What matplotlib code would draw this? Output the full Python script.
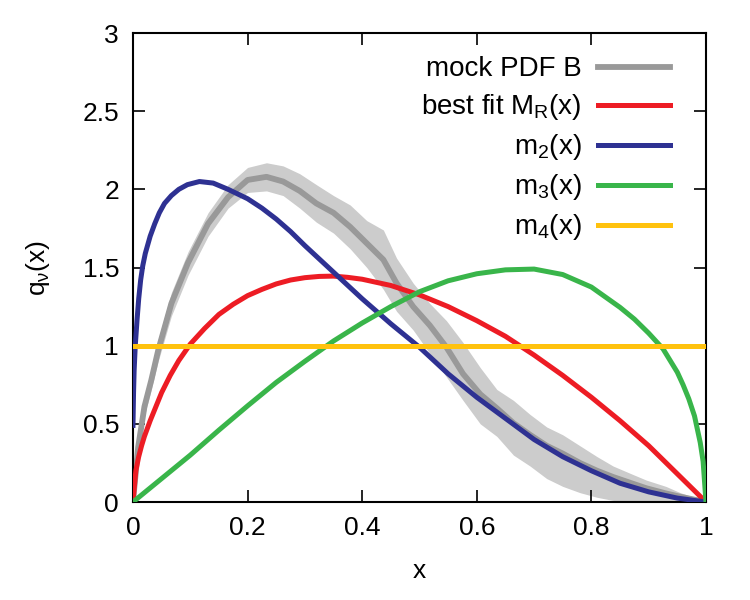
import matplotlib
matplotlib.use("Agg")
import matplotlib.pyplot as plt

plt.rcParams['font.family'] = ['Liberation Sans', 'DejaVu Sans']
plt.rcParams['mathtext.fontset'] = 'custom'
plt.rcParams['mathtext.rm'] = 'Liberation Sans'
plt.rcParams['mathtext.it'] = 'Liberation Sans'

# mock PDF B (centre line and uncertainty band)
pdf_x = [0.0, 0.009, 0.02, 0.032, 0.044, 0.067, 0.096, 0.131, 0.166, 0.2,
         0.233, 0.262, 0.291, 0.32, 0.35, 0.379, 0.408, 0.437, 0.46, 0.489,
         0.518, 0.547, 0.576, 0.606, 0.635, 0.664, 0.693, 0.722, 0.75, 0.78,
         0.81, 0.838, 0.87, 0.896, 0.93, 0.955, 0.98, 1.0]
pdf_mid = [0.0, 0.35, 0.61, 0.78, 0.97, 1.27, 1.53, 1.78, 1.95, 2.06,
           2.08, 2.05, 1.99, 1.91, 1.85, 1.76, 1.655, 1.55, 1.40, 1.25,
           1.13, 0.99, 0.82, 0.69, 0.60, 0.505, 0.43, 0.36, 0.31, 0.25,
           0.20, 0.16, 0.12, 0.088, 0.055, 0.034, 0.015, 0.0]
pdf_lo = [0.0, 0.30, 0.55, 0.72, 0.90, 1.19, 1.45, 1.70, 1.88, 1.98,
          1.99, 1.96, 1.88, 1.79, 1.72, 1.62, 1.50, 1.36, 1.22, 1.10,
          0.95, 0.80, 0.65, 0.50, 0.42, 0.30, 0.23, 0.15, 0.10, 0.06,
          0.03, 0.01, 0.0, 0.0, 0.0, 0.0, 0.0, 0.0]
pdf_hi = [0.05, 0.40, 0.67, 0.85, 1.04, 1.34, 1.60, 1.85, 2.03, 2.14,
          2.17, 2.15, 2.10, 2.03, 1.96, 1.90, 1.80, 1.74, 1.56, 1.40,
          1.27, 1.16, 1.02, 0.86, 0.72, 0.65, 0.56, 0.48, 0.43, 0.36,
          0.29, 0.23, 0.18, 0.14, 0.10, 0.06, 0.03, 0.0]

# best fit M_R(x)
mr_x = [0, 0.005, 0.01, 0.015, 0.02, 0.03, 0.04, 0.05, 0.065, 0.08, 0.1,
        0.125, 0.15, 0.175, 0.2, 0.225, 0.25, 0.275, 0.3, 0.325, 0.35, 0.375,
        0.4, 0.45, 0.5, 0.55, 0.6, 0.65, 0.7, 0.75, 0.8, 0.85, 0.9, 0.95,
        0.975, 1.0]
mr_y = [0, 0.20, 0.29, 0.36, 0.42, 0.52, 0.61, 0.70, 0.81, 0.905, 1.01,
        1.11, 1.20, 1.265, 1.32, 1.36, 1.395, 1.42, 1.435, 1.443, 1.445, 1.437,
        1.425, 1.385, 1.325, 1.25, 1.16, 1.06, 0.94, 0.81, 0.67, 0.52, 0.36,
        0.18, 0.09, 0]

# m2(x)
m2_x = [0.0, 0.001, 0.002, 0.004, 0.007, 0.010, 0.0134, 0.017, 0.0215, 0.03,
        0.038, 0.046, 0.055, 0.067, 0.08, 0.095, 0.116, 0.14, 0.166, 0.2,
        0.225, 0.25, 0.275, 0.3, 0.35, 0.4, 0.45, 0.5, 0.55, 0.6, 0.65, 0.7,
        0.75, 0.8, 0.85, 0.9, 0.95, 1.0]
m2_y = [0.49, 0.70, 0.84, 1.0, 1.16, 1.30, 1.42, 1.51, 1.59, 1.70,
        1.78, 1.85, 1.91, 1.96, 2.00, 2.03, 2.05, 2.04, 2.00, 1.94,
        1.88, 1.81, 1.73, 1.64, 1.47, 1.30, 1.14, 0.99, 0.82, 0.67, 0.535, 0.40,
        0.29, 0.20, 0.12, 0.065, 0.025, 0.0]

# m3(x)
m3_x = [0, 0.05, 0.1, 0.15, 0.2, 0.25, 0.3, 0.35, 0.4, 0.45, 0.5, 0.55, 0.6,
        0.65, 0.7, 0.75, 0.8, 0.85, 0.875, 0.9, 0.925, 0.95, 0.96, 0.97, 0.98,
        0.99, 0.995, 1.0]
m3_y = [0, 0.15, 0.30, 0.46, 0.615, 0.765, 0.90, 1.03, 1.145, 1.25, 1.345, 1.415,
        1.46, 1.485, 1.49, 1.455, 1.375, 1.245, 1.17, 1.08, 0.98, 0.83, 0.75,
        0.66, 0.55, 0.38, 0.26, 0]

# m4(x)
m4_x = [0, 1]
m4_y = [1, 1]

fig = plt.figure(figsize=(7.5, 6), dpi=100)
ax = fig.add_axes([0.1773, 0.1633, 0.764, 0.7817])

lw = 3.6
ax.fill_between(pdf_x, pdf_lo, pdf_hi, color='#cccccc', linewidth=0, zorder=1)
ax.plot(pdf_x, pdf_mid, color='#999999', lw=4.2, label='mock PDF B', zorder=2)
ax.plot(mr_x, mr_y, color='#ed1c24', lw=lw, label=r'best fit M$_\mathregular{R}$(x)', zorder=3)
ax.plot(m2_x, m2_y, color='#2e3192', lw=lw, label=r'm$_\mathregular{2}$(x)', zorder=4)
ax.plot(m3_x, m3_y, color='#39b54a', lw=lw, label=r'm$_\mathregular{3}$(x)', zorder=5)
ax.plot(m4_x, m4_y, color='#ffc20e', lw=lw, label=r'm$_\mathregular{4}$(x)', zorder=6)

ax.set_xlim(0, 1)
ax.set_ylim(0, 3)
ax.set_xticks([0, 0.2, 0.4, 0.6, 0.8, 1])
ax.set_xticklabels(['0', '0.2', '0.4', '0.6', '0.8', '1'])
ax.set_yticks([0, 0.5, 1, 1.5, 2, 2.5, 3])
ax.set_yticklabels(['0', '0.5', '1', '1.5', '2', '2.5', '3'])
ax.tick_params(direction='in', length=8.5, width=1.2, top=True, right=True,
               labelsize=19, pad=10)
for s in ax.spines.values():
    s.set_linewidth(1.5)

ax.set_xlabel('x', fontsize=19, labelpad=14)
ax.set_ylabel(r'q$_\nu$(x)', fontsize=19, labelpad=22)

ax.legend(loc='upper right', bbox_to_anchor=(0.938, 0.95), frameon=False,
          markerfirst=False, fontsize=20, handlelength=2.6, handletextpad=0.6,
          labelspacing=0.36, borderpad=0, borderaxespad=0)

fig.savefig('out.png', dpi=100)
